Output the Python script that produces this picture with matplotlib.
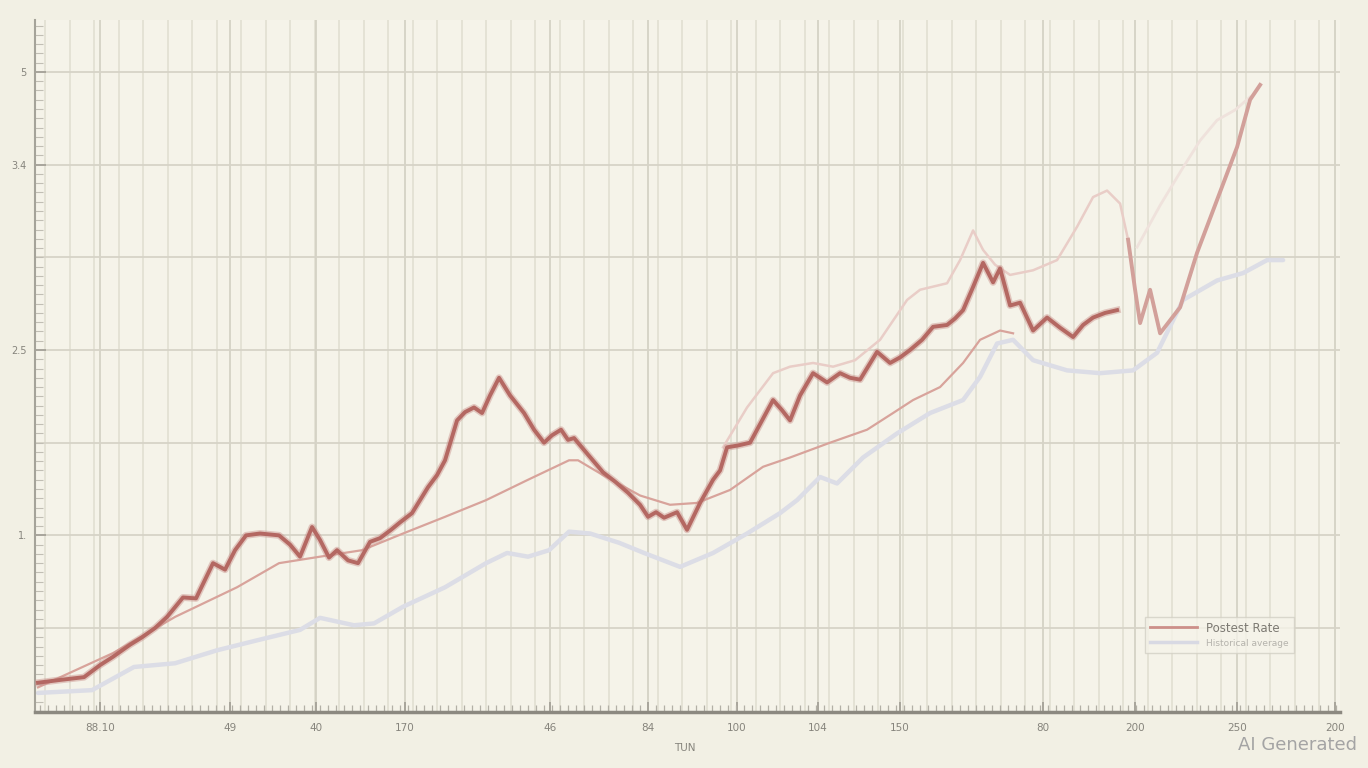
import numpy as np
import matplotlib
matplotlib.use("Agg")
import matplotlib.pyplot as plt

# ---------------- data ----------------
main_x = [0.3, 2.5, 4.9, 6.5, 7.8, 9.5, 10.7, 12.0, 13.2, 14.8,
          16.1, 17.8, 19.0, 20.0, 21.1, 22.5, 24.4, 25.5, 26.5, 27.7,
          28.5, 29.4, 30.2, 31.3, 32.3, 33.5, 34.5, 35.6, 36.5, 37.7,
          38.5, 39.3, 40.2, 41.0, 42.2, 43.0, 43.9, 44.7, 45.5, 46.4,
          47.5, 48.9, 49.9, 50.9, 51.7, 52.6, 53.3, 53.9, 55.3, 56.8,
          58.0, 59.3, 60.5, 61.3, 62.1, 62.9, 64.2, 65.2, 66.5, 67.8,
          68.5, 69.2, 70.3, 71.5, 72.7, 73.8, 74.7, 75.5, 76.5, 77.8,
          79.2, 80.5, 81.5, 82.5, 84.2, 85.5, 86.5, 87.5, 88.7, 89.8,
          91.2, 92.0, 92.8, 93.8, 94.8, 95.8, 96.5, 97.5, 98.5, 99.8,
          101.2, 102.5, 103.8, 104.8, 105.8, 107.0, 108.2]
main_y = [-0.59, -0.56, -0.53, -0.40, -0.31, -0.18, -0.10, 0.00, 0.12, 0.33,
          0.32, 0.70, 0.63, 0.84, 1.00, 1.02, 1.00, 0.90, 0.77, 1.09,
          0.95, 0.76, 0.84, 0.73, 0.70, 0.93, 0.97, 1.06, 1.14, 1.24,
          1.38, 1.52, 1.65, 1.81, 2.24, 2.33, 2.38, 2.32, 2.51, 2.70,
          2.51, 2.32, 2.14, 2.00, 2.08, 2.14, 2.03, 2.05, 1.87, 1.68,
          1.58, 1.46, 1.33, 1.20, 1.25, 1.19, 1.25, 1.06, 1.35, 1.60,
          1.70, 1.95, 1.97, 2.00, 2.24, 2.46, 2.35, 2.24, 2.51, 2.75,
          2.65, 2.75, 2.70, 2.68, 2.98, 2.86, 2.92, 3.00, 3.11, 3.25,
          3.27, 3.34, 3.43, 3.68, 3.94, 3.73, 3.88, 3.48, 3.51, 3.21,
          3.35, 3.24, 3.14, 3.27, 3.35, 3.40, 3.43]

upper_x = [68.8, 71.2, 73.8, 75.5, 77.8, 79.8, 82.0, 84.5, 87.2, 88.5,
           91.2, 92.5, 93.8, 94.8, 96.0, 97.5, 99.8, 102.2, 104.2, 105.8,
           107.2, 108.5, 109.3]
upper_y = [1.95, 2.38, 2.75, 2.82, 2.86, 2.82, 2.89, 3.11, 3.54, 3.65,
           3.72, 3.97, 4.29, 4.08, 3.92, 3.81, 3.86, 3.97, 4.33, 4.65,
           4.72, 4.58, 4.19]

rebound_x = [109.3, 110.0, 110.5, 111.5, 112.5, 114.5, 116.2, 118.2, 120.2, 121.5, 122.5]
rebound_y = [4.19, 3.65, 3.29, 3.65, 3.18, 3.46, 4.05, 4.62, 5.19, 5.70, 5.86]

lower_x = [0.3, 7.8, 14.0, 20.2, 24.4, 28.5, 32.7, 36.8, 41.0, 45.1,
           49.3, 53.4, 54.3, 56.8, 60.5, 63.5, 66.2, 69.5, 72.8, 75.5,
           79.5, 83.2, 85.8, 87.8, 90.5, 92.8, 94.5, 96.5, 97.8]
lower_y = [-0.64, -0.27, 0.12, 0.44, 0.70, 0.77, 0.84, 1.02, 1.20, 1.38,
           1.60, 1.81, 1.81, 1.65, 1.43, 1.33, 1.35, 1.49, 1.74, 1.84,
           2.00, 2.14, 2.32, 2.46, 2.60, 2.86, 3.11, 3.21, 3.18]

avg_x = [0.3, 5.7, 9.9, 14.0, 18.2, 22.3, 26.5, 28.5, 31.9, 33.9,
         36.8, 41.0, 45.1, 47.2, 49.3, 51.4, 53.4, 55.5, 58.4, 60.9,
         64.5, 67.8, 71.2, 74.5, 76.2, 78.5, 80.2, 82.8, 86.2, 89.5,
         92.8, 94.5, 96.2, 97.8, 99.8, 103.2, 106.5, 109.8, 112.2, 114.8,
         118.2, 120.8, 123.2, 124.8]
avg_y = [-0.70, -0.67, -0.42, -0.38, -0.24, -0.13, -0.02, 0.11, 0.03, 0.05,
         0.23, 0.44, 0.70, 0.81, 0.77, 0.84, 1.04, 1.02, 0.92, 0.81,
         0.66, 0.81, 1.02, 1.24, 1.38, 1.63, 1.56, 1.84, 2.10, 2.32,
         2.46, 2.71, 3.07, 3.11, 2.89, 2.78, 2.75, 2.78, 2.97, 3.54,
         3.75, 3.83, 3.97, 3.97]

faint_x = [110.2, 112.5, 114.8, 116.5, 118.2, 120.0, 121.5]
faint_y = [4.11, 4.56, 4.97, 5.26, 5.48, 5.59, 5.73]

xtick_pos = [6.5, 19.5, 28.1, 37.0, 51.5, 61.3, 70.2, 78.3, 86.5, 100.8, 110.0, 120.2, 130.0]
xtick_labels = ["88.10", "49", "40", "170", "46", "84", "100", "104", "150", "80", "200", "250", "200"]
ytick_pos = [1, 3, 5, 6]
ytick_labels = ["1.", "2.5", "3.4", "5"]

legend_labels = ["Postest Rate", "Historical average"]

# ---------------- figure ----------------
BG = "#f2f0e4"
fig = plt.figure(figsize=(13.68, 7.68), dpi=100, facecolor=BG)
ax = fig.add_axes([0.0256, 0.0729, 0.954, 0.901])
ax.set_facecolor("#f5f3e9")

ax.set_xlim(0, 130.5)
ax.set_ylim(-0.906, 6.56)

# grid
for gx in np.arange(1.0, 130.5, 2.45):
    ax.axvline(gx, color="#e0ddd0", lw=1.1, zorder=0)
for gx in xtick_pos:
    ax.axvline(gx, color="#d2cfc2", lw=1.2, zorder=0)
for gy in range(0, 7):
    ax.axhline(gy, color="#d6d3c7", lw=1.3, zorder=0)

# series
ax.plot(avg_x, avg_y, color="#dcdde6", lw=3.2, solid_capstyle="round", zorder=2)
ax.plot(faint_x, faint_y, color="#efe2dc", lw=2.0, zorder=2)
ax.plot(lower_x, lower_y, color="#d8a39b", lw=1.6, zorder=3)
ax.plot(upper_x, upper_y, color="#e9cdc7", lw=1.8, zorder=3)
ax.plot(rebound_x, rebound_y, color="#d2a09a", lw=2.8, zorder=4)
ax.plot(main_x, main_y, color="#c9908a", lw=5.0, alpha=0.45, zorder=4)
main_line, = ax.plot(main_x, main_y, color="#b46862", lw=2.8, zorder=5)

# spines / ticks
for s in ["top", "right"]:
    ax.spines[s].set_visible(False)
ax.spines["left"].set_color("#a5a399")
ax.spines["left"].set_linewidth(1.5)
ax.spines["bottom"].set_color("#8c8980")
ax.spines["bottom"].set_linewidth(2.5)

ax.set_xticks(xtick_pos)
ax.set_xticklabels(xtick_labels)
ax.set_yticks(ytick_pos)
ax.set_yticklabels(ytick_labels)
ax.set_xticks(np.arange(0.5, 130.5, 0.8), minor=True)
ax.set_yticks(np.arange(-0.9, 6.56, 0.1), minor=True)
ax.tick_params(axis="x", which="major", direction="in", length=7, width=1.2,
               color="#a09d94", labelsize=7.5, labelcolor="#86847c", pad=8)
ax.tick_params(axis="x", which="minor", direction="in", length=5, width=0.9, color="#b3b0a6")
ax.tick_params(axis="y", which="major", direction="in", length=8, width=1.2,
               color="#a09d94", labelsize=7, labelcolor="#86847c", pad=6)
ax.tick_params(axis="y", which="minor", direction="in", length=6, width=0.8, color="#c1beb4")

ax.set_xlabel("TUN", fontsize=7.5, color="#86847c", labelpad=4)
ax.xaxis.set_label_coords(0.498, -0.045)

# legend
avg_handle = plt.Line2D([], [], color="#d8d9e3", lw=2.5)
leg_handle = plt.Line2D([], [], color="#cc8f89", lw=2.0)
leg = ax.legend([leg_handle, avg_handle], legend_labels, loc="upper left",
                bbox_to_anchor=(0.846, 0.146), fontsize=8.5, frameon=True,
                fancybox=False, edgecolor="#d3d0c5", facecolor="#f5f3e9",
                handlelength=4, borderpad=0.4, labelspacing=0.3)
leg.get_frame().set_linewidth(1.0)
texts = leg.get_texts()
texts[0].set_color("#7d7a73")
texts[1].set_color("#b5b3ac")
texts[1].set_fontsize(6.5)

fig.text(0.992, 0.030, "AI Generated", ha="right", va="center",
         fontsize=13, color="#a4a4a4")

fig.savefig("out.png", dpi=100, facecolor=BG)
